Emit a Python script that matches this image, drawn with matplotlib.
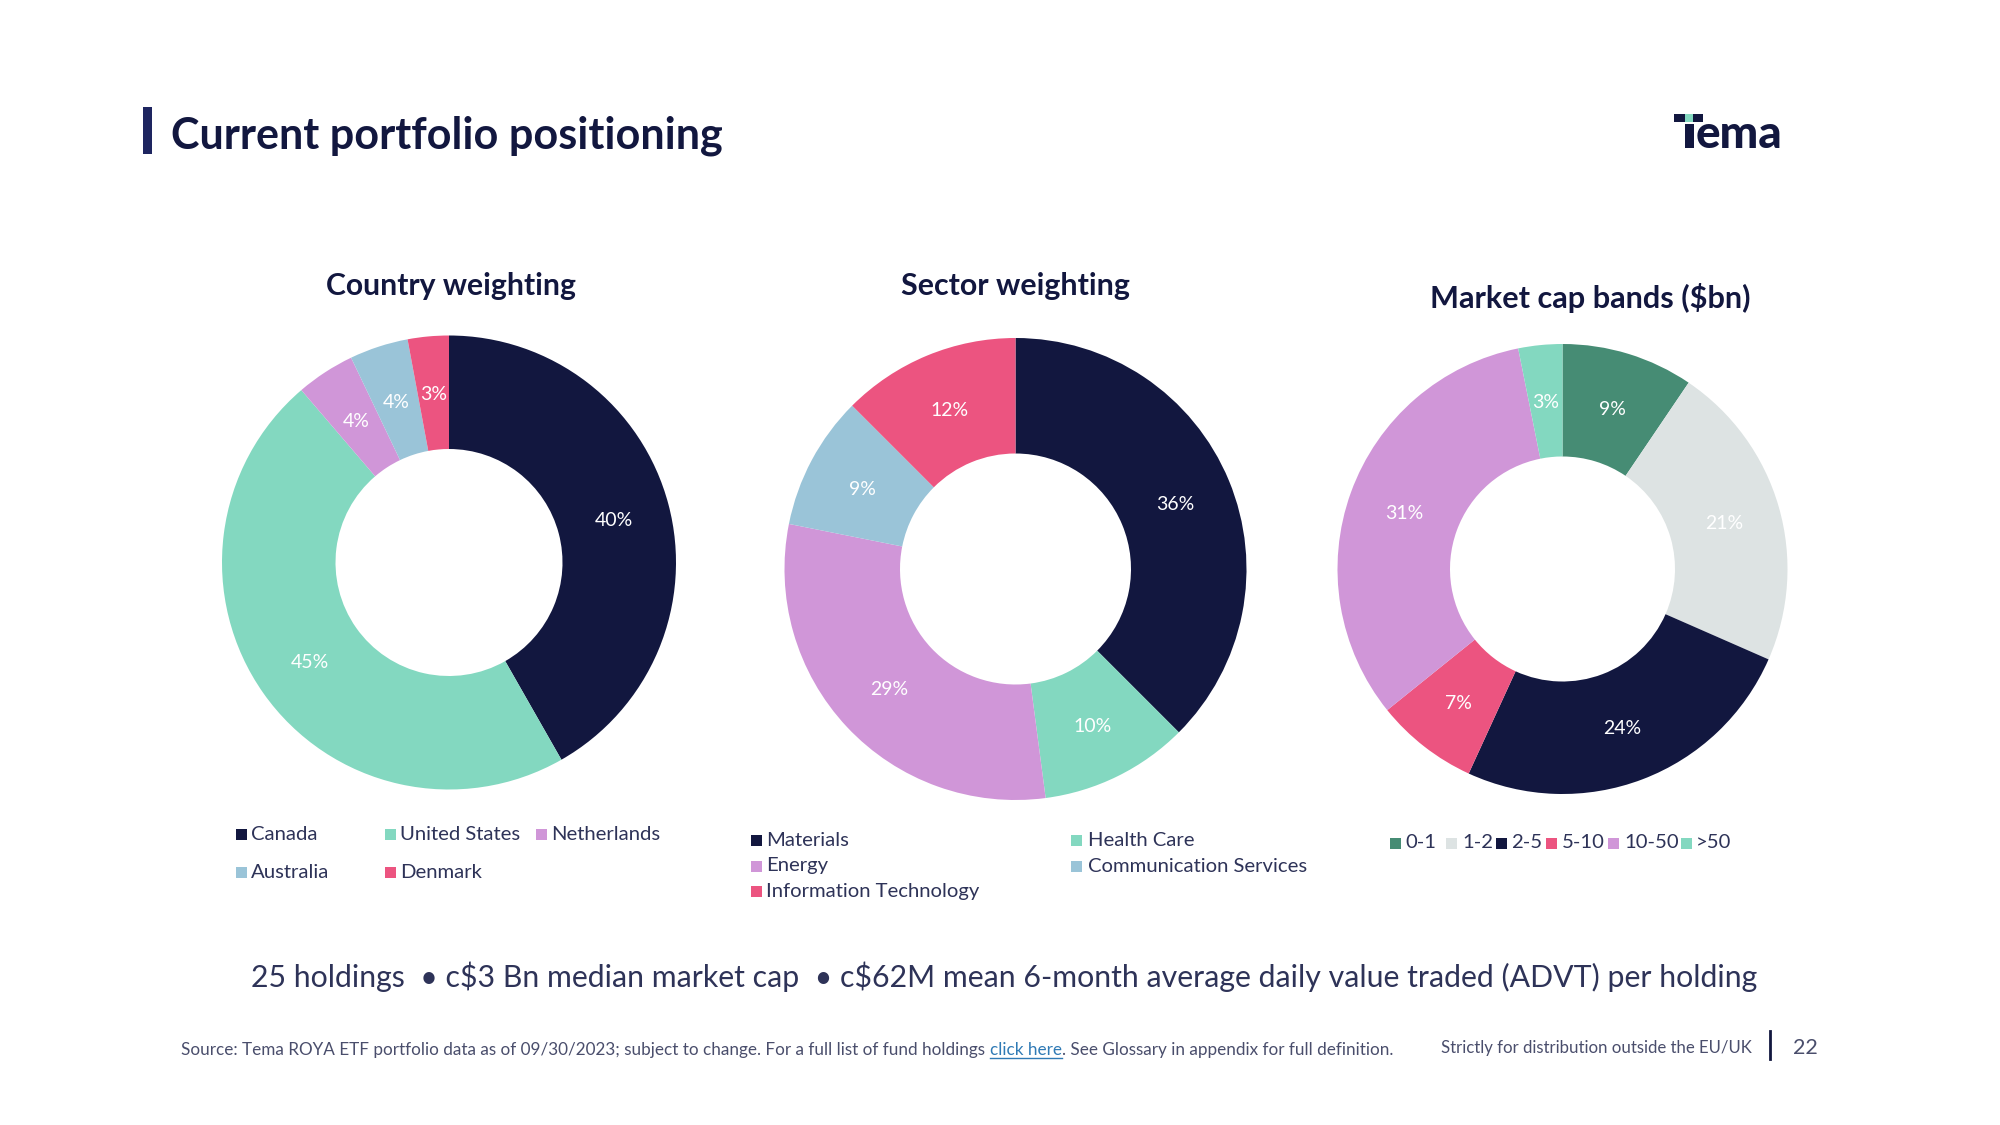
#!/usr/bin/env python3
"""Tema slide: current portfolio positioning, three donut charts."""
import matplotlib
matplotlib.use("Agg")
import matplotlib.pyplot as plt
from matplotlib.patches import Rectangle

plt.rcParams["font.family"] = ["Lato", "DejaVu Sans"]

NAVY = "#12173F"
MINT = "#83D8C0"
PURPLE = "#D096D8"
BLUE = "#9AC4D8"
PINK = "#EC5480"
GREEN = "#468C74"
GREY = "#DDE3E3"
BODY = "#2E3358"
SMALL = "#4A4E6C"

country_names = ["Canada", "United States", "Netherlands", "Australia", "Denmark"]
country_values = [40, 45, 4, 4, 2.8]
country_colors = [NAVY, MINT, PURPLE, BLUE, PINK]

sector_names = ["Materials", "Health Care", "Energy", "Communication Services",
                "Information Technology"]
sector_values = [36, 10, 29, 9, 12]
sector_colors = [NAVY, MINT, PURPLE, BLUE, PINK]

cap_names = ["0-1", "1-2", "2-5", "5-10", "10-50", ">50"]
cap_values = [9, 21, 24, 7, 31, 3]
cap_colors = [GREEN, GREY, NAVY, PINK, PURPLE, MINT]

W, H = 2000, 1125
fig = plt.figure(figsize=(W / 100, H / 100), dpi=100, facecolor="white")

# overlay in pixel coordinates for the slide furniture
bg = fig.add_axes([0, 0, 1, 1])
bg.set_xlim(0, W)
bg.set_ylim(H, 0)
bg.axis("off")


def donut(values, colors, cx, cy, r):
    ax = fig.add_axes([(cx - r) / W, 1 - (cy + r) / H, 2 * r / W, 2 * r / H])
    wedges, _, autotexts = ax.pie(
        values, colors=colors, startangle=90, counterclock=False, radius=1,
        wedgeprops={"width": 0.5, "linewidth": 0}, autopct="%1.0f", pctdistance=0.75,
    )
    for t, v in zip(autotexts, values):
        t.set_text(f"{v:.0f}%")
        t.set_color("white")
        t.set_fontsize(14)
        px, py = t.get_position()
        t.set_position((px, py - 0.008))
    ax.set_xlim(-1, 1)
    ax.set_ylim(-1, 1)
    return ax


def legend(names, colors, positions):
    for name, col, (sx, tx, y) in zip(names, colors, positions):
        bg.add_patch(Rectangle((sx, y - 4.5), 11, 11, color=col, lw=0))
        bg.text(tx, y + 1, name, fontsize=14.6, color=BODY, va="center", ha="left")


donut(country_values, country_colors, 449, 562.5, 227)
donut(sector_values, sector_colors, 1015.5, 569, 231)
donut(cap_values, cap_colors, 1562.5, 569, 225)

bg.text(451.5, 285.5, "Country weighting", fontsize=21.7, fontweight="bold", color=NAVY,
        ha="center", va="center")
bg.text(1015.5, 285.5, "Sector weighting", fontsize=21.9, fontweight="bold", color=NAVY,
        ha="center", va="center")
bg.text(1590, 298, r"Market cap bands (\$bn)", fontsize=22.1, fontweight="bold",
        color=NAVY, ha="center", va="center")

legend(country_names, country_colors,
       [(236, 251, 833), (385, 400.5, 833), (536, 551, 833), (236, 251, 871), (385, 400.5, 871)])
legend(sector_names, sector_colors,
       [(751, 766.5, 839), (1071, 1088, 839), (751, 766.5, 865), (1071, 1088, 865), (751, 766.5, 890)])
legend(cap_names, cap_colors,
       [(1390, 1405.5, 842), (1446, 1462, 842), (1496, 1511, 842),
        (1546, 1562, 842), (1608, 1624, 842), (1681, 1696, 842)])

# title
bg.add_patch(Rectangle((143, 107), 9, 47, color="#1E2560", lw=0))
bg.text(171, 136, "Current portfolio positioning", fontsize=31.1, fontweight="bold",
        color=NAVY, ha="left", va="center")

# logo
bg.add_patch(Rectangle((1674, 114), 29, 8, color=NAVY, lw=0))
bg.add_patch(Rectangle((1685, 114), 8, 8, color=MINT, lw=0))
bg.add_patch(Rectangle((1685, 124), 8.5, 24, color=NAVY, lw=0))
bg.text(1696, 148, "ema", fontsize=33, fontweight="black", color=NAVY, ha="left",
        va="baseline")

# summary line
bg.text(251, 977,
        "25 holdings  \u2022 c\\$3 Bn median market cap  \u2022 c\\$62M mean 6-month average "
        "daily value traded (ADVT) per holding",
        fontsize=21.8, color=BODY, ha="left", va="center")

# source line, three pieces so the link can be blue and underlined
fig.canvas.draw()
rend = fig.canvas.get_renderer()
x = 181
src_style = {"fontsize": 12.3, "va": "baseline", "ha": "left"}
base_y = 1055
t1 = bg.text(x, base_y, "Source: Tema ROYA ETF portfolio data as of 09/30/2023; subject to "
             "change. For a full list of fund holdings", color=SMALL, **src_style)
x = bg.transData.inverted().transform(t1.get_window_extent(rend))[1][0] + 5
t2 = bg.text(x, base_y, "click here", color="#2F7AB5", **src_style)
x2 = bg.transData.inverted().transform(t2.get_window_extent(rend))[1][0]
bg.plot([x, x2], [base_y + 3, base_y + 3], color="#2F7AB5", lw=1)
bg.text(x2, base_y, ". See Glossary in appendix for full definition.", color=SMALL, **src_style)

bg.text(1441, 1047.5, "Strictly for distribution outside the EU/UK", fontsize=12.1,
        color=SMALL, ha="left", va="center")
bg.plot([1770, 1770], [1031, 1059], color=NAVY, lw=2)
bg.text(1793, 1047.5, "22", fontsize=15.5, color=SMALL, ha="left", va="center")

fig.savefig("out.png", dpi=100)
